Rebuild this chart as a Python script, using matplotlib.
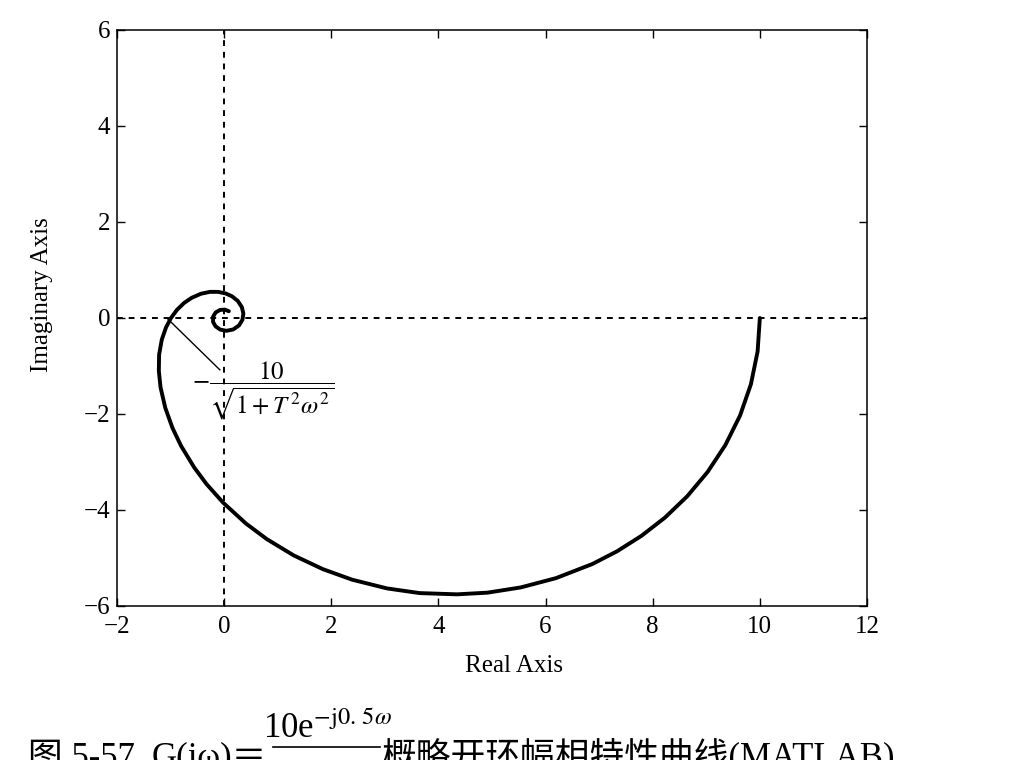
import matplotlib
matplotlib.use("Agg")
import matplotlib.pyplot as plt
from matplotlib.lines import Line2D

# Nyquist points (real, imaginary)
re_vals = [10.0, 9.958, 9.833, 9.630, 9.357, 9.025, 8.645, 8.229, 7.789, 7.336,
           6.876, 6.195, 5.537, 4.916, 4.347, 3.649, 3.041, 2.389, 1.842, 1.300,
           0.798, 0.405, -0.020, -0.331, -0.560, -0.804, -0.965, -1.099, -1.187, -1.219,
           -1.214, -1.164, -1.086, -0.993, -0.881, -0.747, -0.607, -0.433, -0.263, -0.109,
           0.029, 0.145, 0.253, 0.330, 0.359, 0.342, 0.278, 0.168, 0.043, -0.073,
           -0.160, -0.207, -0.207, -0.159, -0.079, 0.010, 0.088]
im_vals = [0.0, -0.697, -1.380, -2.033, -2.645, -3.207, -3.713, -4.158, -4.539, -4.859,
           -5.124, -5.419, -5.613, -5.722, -5.757, -5.731, -5.634, -5.452, -5.232, -4.947,
           -4.608, -4.280, -3.846, -3.457, -3.112, -2.665, -2.289, -1.870, -1.447, -1.103,
           -0.763, -0.451, -0.199, 0.0, 0.169, 0.314, 0.420, 0.505, 0.545, 0.544,
           0.511, 0.453, 0.358, 0.228, 0.091, -0.035, -0.154, -0.239, -0.267, -0.242,
           -0.174, -0.082, 0.026, 0.115, 0.167, 0.175, 0.141]

x_ticks = [-2, 0, 2, 4, 6, 8, 10, 12]
y_ticks = [-6, -4, -2, 0, 2, 4, 6]

plt.rcParams["font.family"] = ["Liberation Serif", "Noto Sans CJK SC"]
plt.rcParams["mathtext.fontset"] = "stix"

fig = plt.figure(figsize=(10.2, 7.6), dpi=100)
ax = fig.add_axes([117 / 1020, 1 - 606 / 760, 750 / 1020, 576 / 760])

ax.axhline(0, color="black", lw=1.4, dashes=(3, 3))
ax.axvline(0, color="black", lw=1.4, dashes=(3, 3))

ax.plot(re_vals, im_vals, color="black", lw=2.8, solid_capstyle="round")

# annotation of the negative real crossing
ax.plot([-1.07, -0.08], [0.0, -1.08], color="black", lw=1.0)
ax.text(0.72, -1.52, r"$-\dfrac{10}{\sqrt{1+T^{\,2}\omega^{2}}}$", fontsize=18,
        ha="center", va="center")

ax.set_xlim(-2, 12)
ax.set_ylim(-6, 6)
ax.set_xticks(x_ticks)
ax.set_yticks(y_ticks)
ax.tick_params(direction="in", length=6, width=1, top=True, right=True,
               labelsize=18)
ax.tick_params(axis="x", pad=7)
ax.tick_params(axis="y", pad=5)
for s in ax.spines.values():
    s.set_linewidth(1.1)

ax.set_xlabel("Real Axis", fontsize=18)
ax.xaxis.set_label_coords(0.529, -0.085)
ax.set_ylabel("Imaginary Axis", fontsize=18)
ax.yaxis.set_label_coords(-0.085, 0.54)

# caption, cut off at the bottom edge like the scanned page
cap = 25
fig.text(28 / 1020, 1 - 767 / 760, "图 5-57", fontsize=cap, va="baseline")
fig.text(152 / 1020, 1 - 767 / 760, "G(jω)＝", fontsize=cap, va="baseline")
fig.text(327 / 1020, 1 - 738 / 760, r"10e$^{-\mathrm{j}0.\,5\omega}$", fontsize=cap,
         ha="center", va="baseline")
fig.add_artist(Line2D([273 / 1020, 380 / 1020], [1 - 747 / 760, 1 - 747 / 760],
                      color="black", lw=1.2, transform=fig.transFigure))
fig.text(382 / 1020, 1 - 767 / 760, "概略开环幅相特性曲线(MATLAB)", fontsize=cap,
         va="baseline")

fig.savefig("out.png", dpi=100, facecolor="white")
